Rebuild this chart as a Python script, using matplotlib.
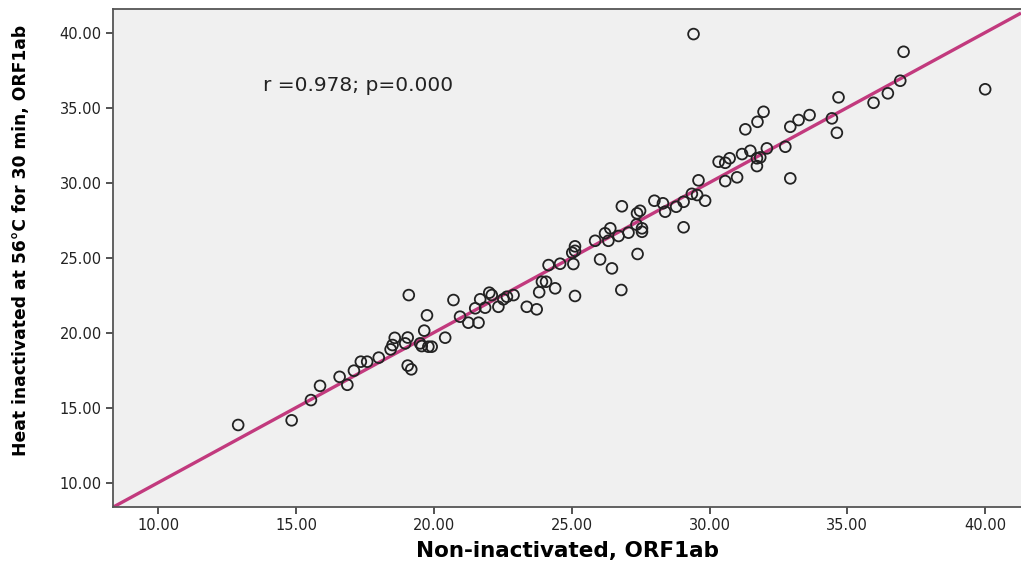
import numpy as np
import matplotlib.pyplot as plt

# Ct values (non-inactivated vs heat inactivated, ORF1ab)
non_inactivated = [
    12.90, 14.84, 15.54, 15.87, 16.58, 16.86, 17.10, 17.35, 17.58, 18.00,
    18.43, 18.50, 18.58, 19.05, 19.09, 19.05, 19.18, 18.96, 19.50, 19.56,
    19.65, 19.75, 19.80, 19.92, 20.41, 20.71, 20.95, 21.25, 21.62, 21.50,
    21.68, 21.86, 22.01, 22.10, 22.34, 22.52, 22.65, 22.89, 23.37, 23.73,
    23.82, 23.92, 24.07, 24.40, 25.12, 24.16, 24.58, 25.06, 25.02, 25.12,
    26.03, 26.46, 25.85, 26.33, 26.21, 26.40, 26.70, 27.06, 27.35, 27.55,
    27.55, 27.39, 26.80, 26.82, 27.37, 27.48, 28.00, 28.31, 28.39, 28.79,
    29.06, 29.06, 29.36, 29.55, 29.84, 29.60, 30.57, 31.00, 30.33, 30.57,
    30.73, 31.18, 31.48, 31.72, 31.72, 31.84, 32.08, 32.75, 32.93, 31.30,
    31.74, 31.96, 32.93, 33.23, 33.63, 34.44, 34.62, 34.68, 35.95, 36.47,
    36.92, 37.04, 40.00, 29.42, 25.12,
]
heat_inactivated = [
    13.89, 14.20, 15.55, 16.50, 17.10, 16.57, 17.51, 18.11, 18.11, 18.38,
    18.93, 19.22, 19.70, 19.72, 22.55, 17.85, 17.60, 19.33, 19.33, 19.15,
    20.18, 21.20, 19.11, 19.11, 19.71, 22.22, 21.11, 20.71, 20.71, 21.67,
    22.27, 21.71, 22.71, 22.55, 21.77, 22.27, 22.44, 22.55, 21.77, 21.60,
    22.74, 23.44, 23.44, 23.00, 22.49, 24.55, 24.64, 24.62, 25.37, 25.80,
    24.93, 24.33, 26.17, 26.17, 26.67, 27.00, 26.49, 26.71, 27.25, 27.00,
    26.77, 25.29, 22.89, 28.47, 28.00, 28.17, 28.84, 28.67, 28.11, 28.44,
    28.77, 27.07, 29.30, 29.22, 28.84, 30.20, 30.15, 30.40, 31.44, 31.37,
    31.67, 31.95, 32.17, 31.67, 31.15, 31.73, 32.33, 32.44, 30.33, 33.60,
    34.10, 34.77, 33.77, 34.22, 34.55, 34.33, 33.37, 35.73, 35.37, 36.00,
    36.84, 38.77, 36.27, 39.95, 25.50,
]

# fit line (drawn across the whole axes)
fit_slope = 1.0
fit_intercept = 0.05

x_ticks = [10, 15, 20, 25, 30, 35, 40]
y_ticks = [10, 15, 20, 25, 30, 35, 40]

fig = plt.figure(figsize=(10.21, 5.64), dpi=100)
ax = fig.add_axes([0.1107, 0.101, 0.8893, 0.883])
ax.set_facecolor('#f0f0f0')

ax.scatter(non_inactivated, heat_inactivated, s=60, marker='o',
           facecolors='none', edgecolors='#222222', linewidths=1.3, zorder=3)

xlim = (8.36, 41.3)
ax.plot(xlim, [fit_slope * v + fit_intercept for v in xlim],
        color='#c23a7e', lw=2.4, zorder=2, solid_capstyle='butt')

ax.set_xlim(*xlim)
ax.set_ylim(8.42, 41.62)
ax.set_xticks(x_ticks)
ax.set_yticks(y_ticks)
ax.set_xticklabels(['{:.2f}'.format(v) for v in x_ticks])
ax.set_yticklabels(['{:.2f}'.format(v) for v in y_ticks])
ax.tick_params(length=5, width=1.3, color='#444444', labelsize=10.5,
               labelcolor='#222222', pad=3)

for side in ['left', 'bottom', 'top']:
    ax.spines[side].set_color('#555555')
    ax.spines[side].set_linewidth(1.3)
ax.spines['right'].set_visible(False)

ax.text(13.8, 36.55, 'r =0.978; p=0.000', fontsize=14.5, color='#222222',
        va='center', ha='left')

ax.set_xlabel('Non-inactivated, ORF1ab', fontsize=15.5, fontweight='bold',
              labelpad=6)
ax.set_ylabel('Heat inactivated at 56\u00b0C for 30 min, ORF1ab', fontsize=12.3,
              fontweight='bold')
ax.yaxis.set_label_coords(-0.091, 0.536)

plt.savefig('out.png', dpi=100)
